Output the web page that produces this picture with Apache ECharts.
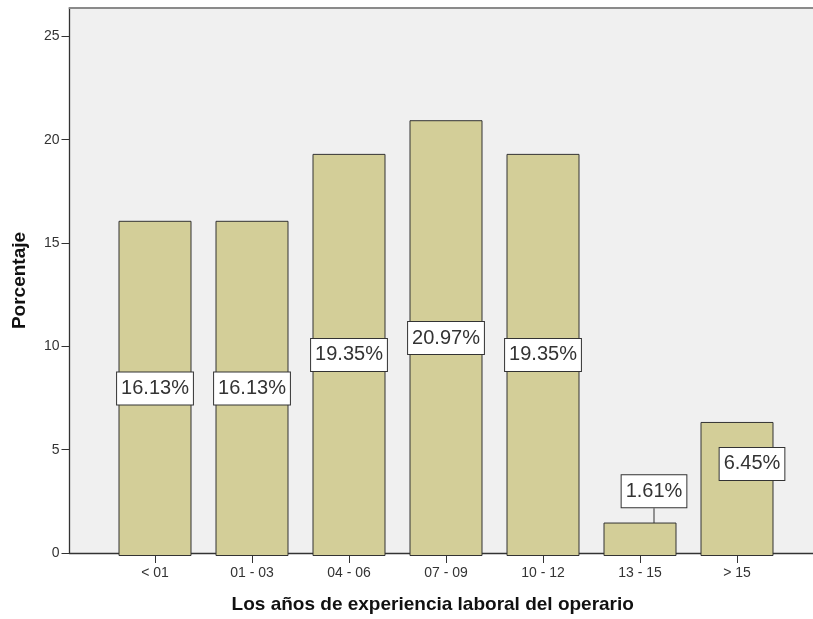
<!DOCTYPE html>
<html>
<head>
<meta charset="utf-8">
<script src="https://cdn.jsdelivr.net/npm/echarts@6/dist/echarts.min.js"></script>
<style>
  html, body { margin: 0; padding: 0; background: #ffffff; }
  #chart { width: 813px; height: 619px; }
</style>
</head>
<body>
<div id="chart"></div>
<script>
// Years of work experience of the operators, percentage per group
const categories = ['< 01', '01 - 03', '04 - 06', '07 - 09', '10 - 12', '13 - 15', '> 15'];
const percentages = [16.13, 16.13, 19.35, 20.97, 19.35, 1.61, 6.45];
const yTicks = [0, 5, 10, 15, 20, 25];

const FONT = '"Liberation Sans", Arial, sans-serif';
const Y_MAX = 26.37;

const chart = echarts.init(document.getElementById('chart'), null, { renderer: 'canvas' });

// Label offsets for the small bars, whose labels sit above the middle
function labelShift(idx) {
  if (idx === 5) return { dx: 14, dy: -48 };
  if (idx === 6) return { dx: 15, dy: -25 };
  return null;
}

chart.setOption({
  animation: false,
  backgroundColor: '#ffffff',
  grid: [
    { // plot background, open on the right
      left: 69.5, right: 0, top: 8, bottom: 63,
      show: true, backgroundColor: '#f0f0f0', borderWidth: 0
    },
    { // bars
      left: 106.5, width: 679, top: 8, bottom: 63
    }
  ],
  xAxis: [
    {
      gridIndex: 0, type: 'value', min: 0, max: 1,
      axisLine: { show: true, onZero: false, lineStyle: { color: '#333333', width: 1.3 } },
      axisTick: { show: false }, axisLabel: { show: false }, splitLine: { show: false },
      name: 'Los años de experiencia laboral del operario',
      nameLocation: 'middle', nameGap: 42,
      nameTextStyle: { fontFamily: FONT, fontWeight: 'bold', fontSize: 19, color: '#111111', padding: [0, 0, 0, -17] }
    },
    {
      gridIndex: 1, type: 'category', data: categories,
      axisLine: { show: false },
      axisTick: { show: true, alignWithLabel: true, length: 7, lineStyle: { color: '#333333' } },
      axisLabel: { fontFamily: FONT, fontSize: 14, color: '#333333', margin: 10 },
      splitLine: { show: false }
    },
    { // top frame line
      gridIndex: 0, type: 'value', min: 0, max: 1, position: 'top',
      axisLine: { show: true, onZero: false, lineStyle: { color: '#8a8a8a', width: 2 } },
      axisTick: { show: false }, axisLabel: { show: false }, splitLine: { show: false }
    }
  ],
  yAxis: [
    {
      gridIndex: 0, type: 'value', min: 0, max: Y_MAX,
      axisLine: { show: true, lineStyle: { color: '#333333', width: 1.3 } },
      axisTick: { show: true, length: 8, inside: false, customValues: yTicks, lineStyle: { color: '#333333' } },
      axisLabel: { fontFamily: FONT, fontSize: 14, color: '#333333', margin: 10, customValues: yTicks },
      splitLine: { show: false },
      name: 'Porcentaje', nameLocation: 'middle', nameGap: 40, nameRotate: 90,
      nameTextStyle: { fontFamily: FONT, fontWeight: 'bold', fontSize: 19, color: '#111111' }
    },
    {
      gridIndex: 1, type: 'value', min: 0, max: Y_MAX, show: false
    }
  ],
  series: [
    {
      type: 'bar', xAxisIndex: 1, yAxisIndex: 1,
      data: percentages.map((v, i) => ({
        value: v,
        labelLine: { show: i === 5, lineStyle: { color: '#333333', width: 1 } }
      })),
      barWidth: 73,
      itemStyle: { color: '#d3ce98', borderColor: '#333333', borderWidth: 1 },
      label: {
        show: true, position: 'inside',
        formatter: p => p.value.toFixed(2) + '%',
        fontFamily: FONT, fontSize: 20, color: '#333333',
        backgroundColor: '#ffffff', borderColor: '#333333', borderWidth: 1,
        padding: [5, 4, 5, 4], lineHeight: 22
      },
      labelLine: { show: false, length2: 0, smooth: false },
      labelLayout: p => labelShift(p.dataIndex) || {}
    }
  ]
});
</script>
</body>
</html>
